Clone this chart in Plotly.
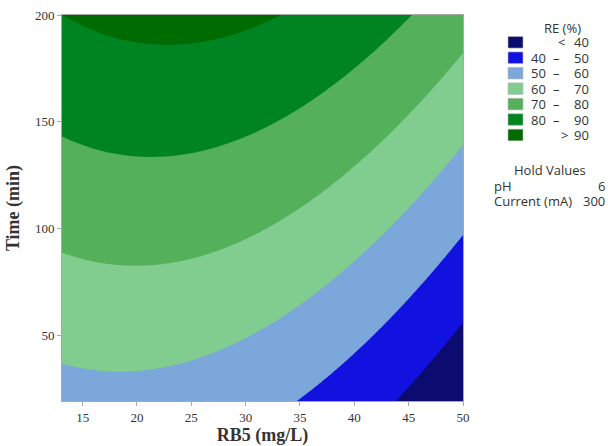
import numpy as np
import plotly.graph_objects as go

# Contour boundary points: RE level (%), RB5 (mg/L), Time (min)
bound_level = [90, 90, 90, 90,
               80, 80, 80, 80, 80,
               70, 70, 70, 70, 70, 70,
               60, 60, 60, 60, 60,
               50, 50, 50,
               40, 40]
bound_rb5 = [13.3, 22.8, 31.4, 33.2,
             13.2, 21.2, 31.8, 37.5, 45.3,
             13.2, 20.0, 31.8, 35.0, 43.6, 50.0,
             13.2, 18.7, 31.8, 45.0, 50.0,
             34.9, 43.6, 50.0,
             43.9, 50.0]
bound_time = [199.5, 186.3, 196.1, 200.0,
              143.0, 133.6, 146.9, 162.5, 200.0,
              88.4, 82.5, 99.3, 108.7, 149.3, 182.1,
              36.9, 33.0, 53.3, 108.7, 138.3,
              19.2, 64.2, 96.2,
              19.2, 54.8]

# Contour classes
levels = [40, 50, 60, 70, 80, 90]
class_colors = ["#0B0B70", "#1212E0", "#7BA7DA", "#80CD8F", "#54B05B", "#008422", "#006B00"]
legend_low = ["", "40", "50", "60", "70", "80", ""]
legend_mid = ["<", "–", "–", "–", "–", "–", ">"]
legend_high = ["40", "50", "60", "70", "80", "90", "90"]

hold_names = ["pH", "Current (mA)"]
hold_values = ["6", "300"]

x_ticks = [15, 20, 25, 30, 35, 40, 45, 50]
y_ticks = [50, 100, 150, 200]
x_range = [13.1, 50.0]
y_range = [19.2, 200.0]

# Fit a full quadratic response surface through the read boundary points
bx = np.array(bound_rb5)
by = np.array(bound_time)
bz = np.array(bound_level, dtype=float)
xc = (bx - 31.5) / 18.5
yc = (by - 110.0) / 90.0
A = np.column_stack([np.ones_like(xc), xc, yc, xc**2, yc**2, xc * yc])
coef, *_ = np.linalg.lstsq(A, bz, rcond=None)

gx = np.linspace(x_range[0], x_range[1], 300)
gy = np.linspace(y_range[0], y_range[1], 300)
GX, GY = np.meshgrid(gx, gy)
cx = (GX - 31.5) / 18.5
cy = (GY - 110.0) / 90.0
Z = coef[0] + coef[1]*cx + coef[2]*cy + coef[3]*cx**2 + coef[4]*cy**2 + coef[5]*cx*cy

n = len(class_colors)
colorscale = [[k / (n - 1), c] for k, c in enumerate(class_colors)]

fig = go.Figure()
fig.add_trace(go.Contour(
    x=gx, y=gy, z=Z,
    autocontour=False,
    contours=dict(start=levels[0], end=levels[-1], size=10, coloring="fill", showlines=False),
    colorscale=colorscale,
    line=dict(width=0),
    showscale=False,
    hoverinfo="skip",
))

L, R, T, B = 62, 145, 15, 45
W, H = 608, 446
pw, ph = W - L - R, H - T - B


def px(xp):
    return (xp - L) / pw


def py(yp):
    return (H - B - yp) / ph


serif = "Liberation Serif, Times New Roman, serif"
sans = "Open Sans"
txt_col = "#333333"
fs = 13


def label(x, y, text, anchor):
    return dict(x=px(x), y=py(y), xref="paper", yref="paper", text=text, showarrow=False,
                font=dict(family=sans, size=fs, color=txt_col), xanchor=anchor, yanchor="middle")


annotations = [label(562, 28, "RE (%)", "center")]
shapes = []
row0 = 42.3
dy = 15.45
for i in range(n):
    yc_ = row0 + i * dy
    shapes.append(dict(type="rect", xref="paper", yref="paper",
                       x0=px(508), x1=px(523), y0=py(yc_ - 5.8), y1=py(yc_ + 5.8),
                       fillcolor=class_colors[i], line=dict(width=0.6, color="#BBBBBB")))
    if legend_low[i]:
        annotations.append(label(548, yc_, legend_low[i], "right"))
    mid_x = 556 if legend_mid[i] == "–" else (561 if legend_mid[i] == "<" else 564)
    annotations.append(label(mid_x, yc_, legend_mid[i], "center"))
    annotations.append(label(591, yc_, legend_high[i], "right"))

annotations.append(label(550, 170, "Hold Values", "center"))
for i, (nm, vl) in enumerate(zip(hold_names, hold_values)):
    yy = 185.5 + i * 15.5
    annotations.append(label(492, yy, nm, "left"))
    annotations.append(label(607, yy, vl, "right"))

axis_common = dict(showgrid=False, zeroline=False, showline=True, mirror=True, automargin=False,
                   linecolor="#A8A8A8", linewidth=1, ticks="outside", ticklen=4,
                   tickcolor="#A8A8A8", tickfont=dict(family=serif, size=13, color=txt_col))

fig.update_layout(
    width=W, height=H,
    margin=dict(l=L, r=R, t=T, b=B, pad=0, autoexpand=False),
    paper_bgcolor="white", plot_bgcolor="white",
    xaxis=dict(range=x_range, tickvals=x_ticks, title=dict(text="<b>RB5 (mg/L)</b>", standoff=6,
               font=dict(family=serif, size=18, color=txt_col)), **axis_common),
    yaxis=dict(range=y_range, tickvals=y_ticks, title=dict(text="<b>Time (min)</b>", standoff=10,
               font=dict(family=serif, size=18, color=txt_col)), **axis_common),
    annotations=annotations,
    shapes=shapes,
    showlegend=False,
)

fig.write_html("out.html")
